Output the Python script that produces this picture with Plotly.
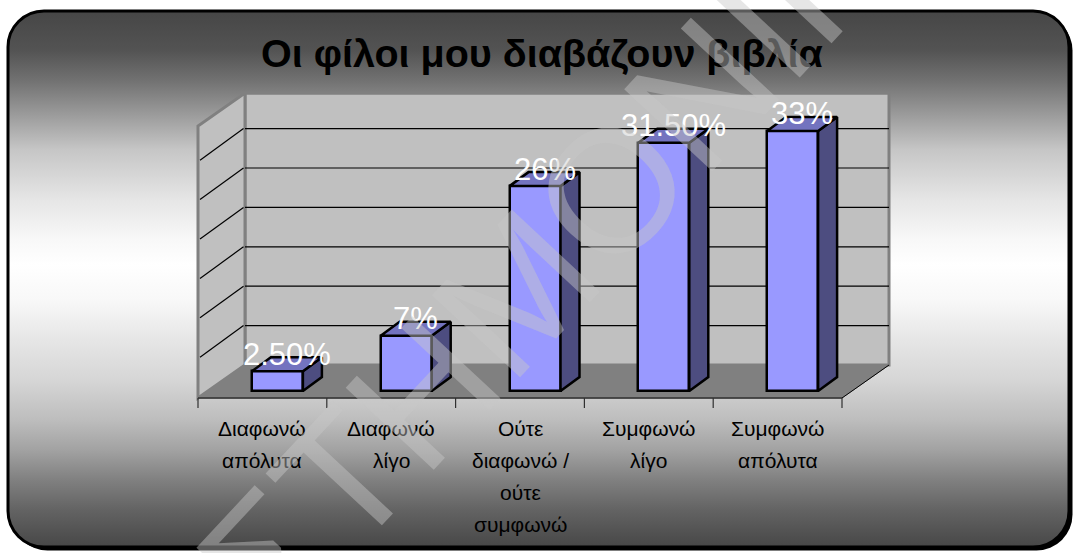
import base64
import plotly.graph_objects as go

# ---- data -------------------------------------------------------------
title_text = "Οι φίλοι μου διαβάζουν βιβλία"
category_lines = [
    ["Διαφωνώ", "απόλυτα"],
    ["Διαφωνώ", "λίγο"],
    ["Ούτε", "διαφωνώ /", "ούτε", "συμφωνώ"],
    ["Συμφωνώ", "λίγο"],
    ["Συμφωνώ", "απόλυτα"],
]
values = [2.5, 7, 26, 31.5, 33]
value_labels = ["2.50%", "7%", "26%", "31.50%", "33%"]
grid_values = [5, 10, 15, 20, 25, 30]
axis_max = 34.5
watermark_text = "ΕΠΙΣΤΗΜΟΝΙΚΟ"

# ---- canvas / projection ---------------------------------------------
W, H = 1076, 553
PX_CAT = 128.8          # pixels per category
PX_PCT = 7.88           # pixels per percent
AX_LEFT = 198           # left edge of the category axis (px)
AX_BASE = 398           # pixel row of the 0% line on the front plane

X0 = -0.5 - AX_LEFT / PX_CAT
X1 = X0 + W / PX_CAT
Y0 = -(H - AX_BASE) / PX_PCT
Y1 = AX_BASE / PX_PCT


def dx(px):
    return px / PX_CAT


def dy(px):
    return px / PX_PCT


# oblique depth of the floor and of the columns
FLOOR_DX, FLOOR_DY = dx(47), dy(33)
BAR_DX, BAR_DY = dx(19), dy(14)
BAR_SHIFT, BAR_BASE = dx(15), dy(7)
BAR_W = dx(51)

n = len(values)
xl, xr = -0.5, n - 0.5


def path(points):
    return "M " + " L ".join(f"{x},{y}" for x, y in points) + " Z"


shapes = []
wall_fill, wall_edge = "#c0c0c0", "#808080"

# floor
shapes.append(dict(type="path", xref="x", yref="y", layer="below",
                   path=path([(xl, 0), (xr, 0), (xr + FLOOR_DX, FLOOR_DY), (xl + FLOOR_DX, FLOOR_DY)]),
                   fillcolor="#808080", line=dict(color="#808080", width=1)))
# back wall
shapes.append(dict(type="path", xref="x", yref="y", layer="below",
                   path=path([(xl + FLOOR_DX, FLOOR_DY), (xr + FLOOR_DX, FLOOR_DY),
                              (xr + FLOOR_DX, FLOOR_DY + axis_max), (xl + FLOOR_DX, FLOOR_DY + axis_max)]),
                   fillcolor=wall_fill, line=dict(color=wall_edge, width=3)))
# side wall
shapes.append(dict(type="path", xref="x", yref="y", layer="below",
                   path=path([(xl, 0), (xl + FLOOR_DX, FLOOR_DY),
                              (xl + FLOOR_DX, FLOOR_DY + axis_max), (xl, axis_max)]),
                   fillcolor=wall_fill, line=dict(color=wall_edge, width=3)))
# gridlines on both walls
for g in grid_values:
    shapes.append(dict(type="line", xref="x", yref="y", layer="below",
                       x0=xl + FLOOR_DX, y0=FLOOR_DY + g, x1=xr + FLOOR_DX, y1=FLOOR_DY + g,
                       line=dict(color="#000000", width=1.2)))
    shapes.append(dict(type="line", xref="x", yref="y", layer="below",
                       x0=xl + dx(2), y0=g + dy(1.4), x1=xl + FLOOR_DX - dx(1.5), y1=FLOOR_DY + g,
                       line=dict(color="#000000", width=1.2)))
# floor right edge and category axis
shapes.append(dict(type="line", xref="x", yref="y", layer="below",
                   x0=xr, y0=0, x1=xr + FLOOR_DX, y1=FLOOR_DY, line=dict(color="#000000", width=1)))
shapes.append(dict(type="line", xref="x", yref="y", layer="below",
                   x0=xl, y0=0, x1=xr, y1=0, line=dict(color="#303030", width=1.5)))
for k in range(n + 1):
    shapes.append(dict(type="line", xref="x", yref="y", layer="below",
                       x0=xl + k, y0=0, x1=xl + k, y1=-dy(10), line=dict(color="#303030", width=1.2)))

fig = go.Figure()

# column fronts
fig.add_trace(go.Bar(
    x=[i + BAR_SHIFT for i in range(n)], y=values, base=[BAR_BASE] * n, width=BAR_W,
    marker=dict(color="#9999ff", line=dict(color="#000000", width=2.5)),
    hoverinfo="skip", showlegend=False,
))

# column sides and tops
for i, v in enumerate(values):
    left = i + BAR_SHIFT - BAR_W / 2
    right = i + BAR_SHIFT + BAR_W / 2
    top = BAR_BASE + v
    side = [(right, BAR_BASE), (right, top), (right + BAR_DX, top + BAR_DY),
            (right + BAR_DX, BAR_BASE + BAR_DY), (right, BAR_BASE)]
    cap = [(left, top), (right, top), (right + BAR_DX, top + BAR_DY),
           (left + BAR_DX, top + BAR_DY), (left, top)]
    for pts, col in ((side, "#4d4d80"), (cap, "#7373bf")):
        fig.add_trace(go.Scatter(
            x=[p[0] for p in pts], y=[p[1] for p in pts], mode="lines", fill="toself",
            fillcolor=col, line=dict(color="#000000", width=2.5),
            hoverinfo="skip", showlegend=False,
        ))

annotations = []
# value labels above each column
for i, (v, lab) in enumerate(zip(values, value_labels)):
    annotations.append(dict(
        x=i + BAR_SHIFT + BAR_DX / 2, y=BAR_BASE + v + BAR_DY, xref="x", yref="y",
        text=lab, showarrow=False, yanchor="middle", yshift=3,
        font=dict(family="Liberation Sans, Arial", size=31, color="#ffffff"),
    ))
# category labels
for i, lines in enumerate(category_lines):
    for j, line in enumerate(lines):
        annotations.append(dict(
            x=i, y=-dy(30 + j * 32.3), xref="x", yref="y", text=line, showarrow=False,
            yanchor="middle", font=dict(family="Liberation Sans, Arial", size=21, color="#000000"),
        ))
# title
annotations.append(dict(
    x=542 / W, y=1 - 53 / H, xref="paper", yref="paper", text=f"<b>{title_text}</b>",
    showarrow=False, yanchor="middle",
    font=dict(family="Liberation Sans, Arial", size=39.5, color="#000000"),
))
# faint diagonal watermark
annotations.append(dict(
    x=490 / W, y=1 - 320 / H, xref="paper", yref="paper", text=watermark_text,
    showarrow=False, textangle=-47,
    font=dict(family="Liberation Sans, Arial", size=175, color="rgba(200,200,200,0.45)"),
))

# rounded panel with vertical grey gradient and drop shadow
stops = [
    (0.0, "#464646"), (0.073, "#535353"), (0.129, "#717171"), (0.166, "#898989"),
    (0.259, "#c6c6c6"), (0.353, "#e6e6e6"), (0.427, "#f8f8f8"), (0.474, "#ffffff"),
    (0.539, "#f8f8f8"), (0.614, "#e6e6e6"), (0.688, "#d6d6d6"), (0.763, "#bdbdbd"),
    (0.819, "#a2a2a2"), (0.875, "#808080"), (0.931, "#636363"), (1.0, "#474747"),
]
stop_xml = "".join(f'<stop offset="{o}" stop-color="{c}"/>' for o, c in stops)
svg = (
    f'<svg xmlns="http://www.w3.org/2000/svg" width="{W}" height="{H}" viewBox="0 0 {W} {H}">'
    f'<defs><linearGradient id="g" x1="0" y1="0" x2="0" y2="1">{stop_xml}</linearGradient></defs>'
    f'<rect x="11.5" y="14.5" width="1061" height="536" rx="36" fill="#000"/>'
    f'<rect x="8" y="11" width="1061" height="536" rx="36" fill="url(#g)" stroke="#000" stroke-width="3"/>'
    f'</svg>'
)
panel_src = "data:image/svg+xml;base64," + base64.b64encode(svg.encode("utf-8")).decode("ascii")

fig.update_layout(
    width=W, height=H, margin=dict(l=0, r=0, t=0, b=0),
    paper_bgcolor="#ffffff", plot_bgcolor="rgba(0,0,0,0)",
    xaxis=dict(range=[X0, X1], domain=[0, 1], visible=False, fixedrange=True),
    yaxis=dict(range=[Y0, Y1], domain=[0, 1], visible=False, fixedrange=True),
    shapes=shapes, annotations=annotations,
    images=[dict(source=panel_src, xref="paper", yref="paper", x=0, y=1, sizex=1, sizey=1,
                 xanchor="left", yanchor="top", sizing="stretch", layer="below")],
    bargap=0, showlegend=False,
)

fig.write_html("out.html")
